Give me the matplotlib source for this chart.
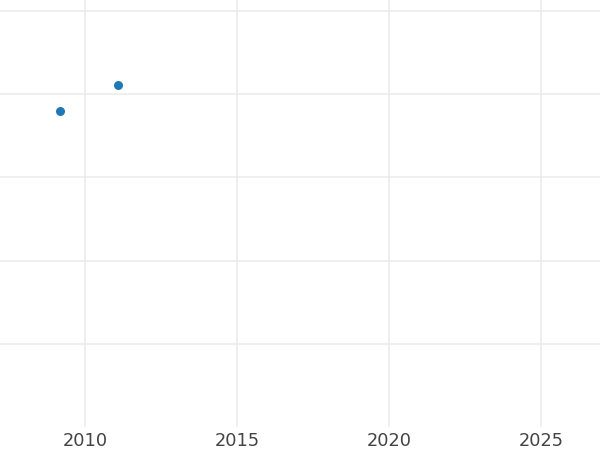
import matplotlib
matplotlib.use("Agg")
import matplotlib.pyplot as plt

plt.rcParams["font.family"] = ["DejaVu Sans"]

years = [2009.18, 2011.09]
values = [38.0, 41.1]
xticks = [2010, 2015, 2020, 2025]
yticks = [10, 20, 30, 40, 50]

fig = plt.figure(figsize=(6, 4.5), dpi=100)
ax = fig.add_axes([0, 1 - 427/450, 1, 427/450])
ax.set_xlim(2007.204, 2026.94)
ax.set_ylim(0, 51.3)
ax.set_xticks(xticks)
ax.set_xticklabels([str(t) for t in xticks])
ax.set_yticks(yticks)
ax.set_yticklabels([])
ax.grid(True, color="#ebebeb", linewidth=1.1)
ax.set_axisbelow(True)
for s in ax.spines.values():
    s.set_visible(False)
ax.tick_params(axis="both", length=0)
ax.tick_params(axis="x", pad=3.5, labelsize=12.8, labelcolor="#444444")
ax.scatter(years, values, s=42, color="#1f77b4", zorder=3, linewidths=0)
fig.savefig("out.png", dpi=100)
